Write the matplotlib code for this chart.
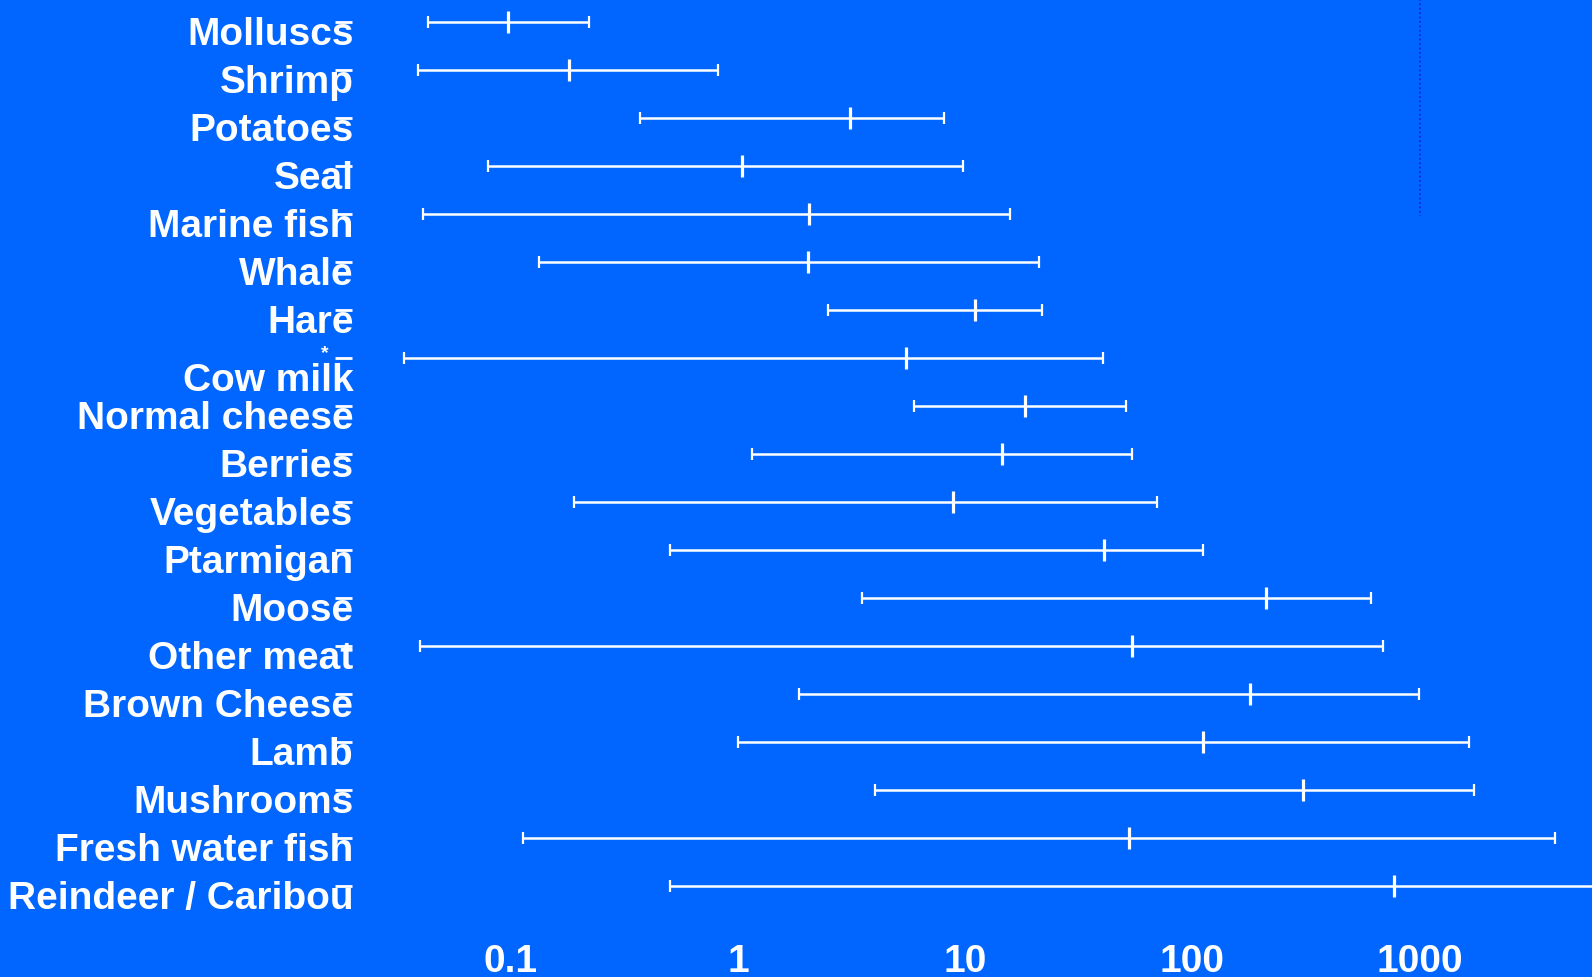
import matplotlib
matplotlib.use("Agg")
import matplotlib.pyplot as plt
import matplotlib.transforms as mtransforms

plt.rcParams["font.family"] = ["Liberation Sans", "DejaVu Sans"]

foods = ["Molluscs", "Shrimp", "Potatoes", "Seal", "Marine fish", "Whale", "Hare",
         "Cow milk", "Normal cheese", "Berries", "Vegetables", "Ptarmigan", "Moose",
         "Other meat", "Brown Cheese", "Lamb", "Mushrooms", "Fresh water fish",
         "Reindeer / Caribou"]
low = [0.043, 0.039, 0.37, 0.079, 0.041, 0.133, 2.5, 0.034, 5.95, 1.15, 0.19,
       0.50, 3.5, 0.040, 1.86, 1.0, 4.0, 0.113, 0.50]
median = [0.097, 0.18, 3.1, 1.04, 2.06, 2.04, 11.0, 5.5, 18.3, 14.6, 8.8,
          40.8, 212, 54.5, 179, 111, 306, 52.8, 773]
high = [0.22, 0.82, 8.1, 9.8, 15.8, 21.1, 21.8, 40.4, 51.2, 54, 70,
        111, 611, 692, 993, 1644, 1731, 3940, 9000]
xticks = [0.1, 1, 10, 100, 1000]
xtick_labels = ["0.1", "1", "10", "100", "1000"]
ref_level = 1000

bg = "#0066ff"
fig = plt.figure(figsize=(15.92, 9.78), dpi=100, facecolor=bg)
ax = fig.add_axes([352 / 1592, 1 - 911 / 978, 1 - 352 / 1592, 911 / 978])
ax.set_facecolor(bg)
ax.set_xscale("log")
ax.set_xlim(0.02, 5745)
ax.set_ylim(18.5, -0.47)

rows = list(range(len(foods)))
ax.hlines(rows, low, high, colors="white", lw=1.8)
ax.plot(low, rows, ls="none", marker="|", ms=8, mew=1.6, color="white")
ax.plot(high, rows, ls="none", marker="|", ms=8, mew=1.6, color="white")
ax.plot(median, rows, ls="none", marker="|", ms=16.5, mew=2.3, color="white")

# dotted reference line at 1000, only over the top rows
ax.vlines(ref_level, -0.47, 4.05, colors="#0a1fd8", linestyles=":", lw=1.2)

for s in ax.spines.values():
    s.set_visible(False)

ax.set_xticks(xticks)
ax.set_xticklabels(xtick_labels)
ax.minorticks_off()
ax.tick_params(axis="x", length=0, pad=24, labelsize=28, labelcolor="white")
ax.set_yticks(rows)
ax.set_yticklabels(foods)
ax.tick_params(axis="y", length=12, width=2, color="white", direction="out",
               pad=-13, labelsize=28, labelcolor="white")
for lab in ax.get_xticklabels() + ax.get_yticklabels():
    lab.set_fontweight("bold")

for i, lab in enumerate(ax.get_yticklabels()):
    dy = -18 if foods[i] == "Cow milk" else -8
    off = mtransforms.ScaledTranslation(0, dy / 100, fig.dpi_scale_trans)
    lab.set_transform(lab.get_transform() + off)

cow = foods.index("Cow milk")
trans = mtransforms.blended_transform_factory(ax.transAxes, ax.transData)
ax.text(-0.022, cow - 0.1, "*", transform=trans, color="white", fontsize=14,
        fontweight="bold", ha="center", va="center")

fig.savefig("out.png", dpi=100, facecolor=bg)
